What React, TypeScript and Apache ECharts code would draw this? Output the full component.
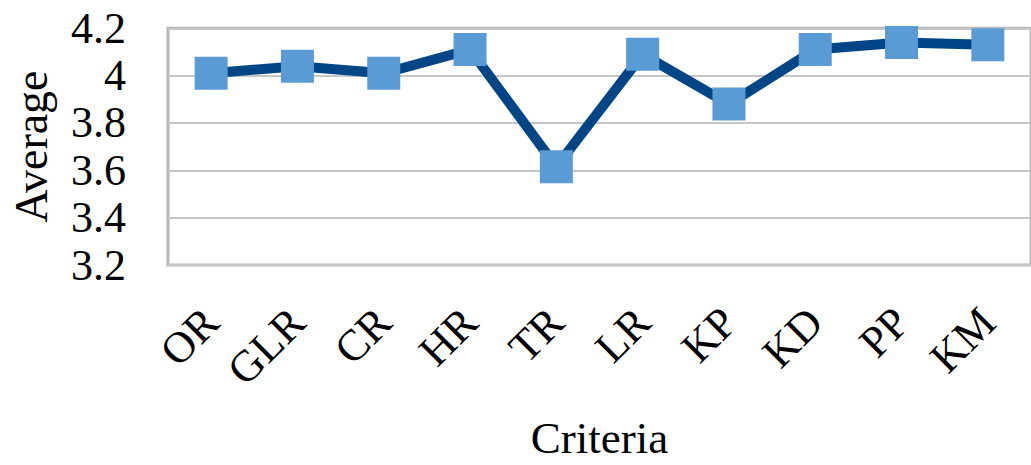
import React, { useEffect, useRef } from "react";
import * as echarts from "echarts";

const categories = ["OR", "GLR", "CR", "HR", "TR", "LR", "KP", "KD", "PP", "KM"];
const averages = [4.01, 4.04, 4.01, 4.11, 3.615, 4.09, 3.88, 4.11, 4.14, 4.13];
const yMin = 3.2;
const yMax = 4.2;
const yStep = 0.2;

const FONT = "'Liberation Serif', 'Times New Roman', serif";

export default function App() {
  const ref = useRef<HTMLDivElement>(null);
  useEffect(() => {
    if (!ref.current) return;
    const chart = echarts.init(ref.current, undefined, { renderer: "svg" });
    chart.setOption({
      animation: false,
      backgroundColor: "#ffffff",
      grid: {
        left: 163.4,
        right: -7.8,
        top: 28.3,
        bottom: 465 - 270.7,
        show: true,
        borderColor: "#B8B8B8",
        borderWidth: 3,
        backgroundColor: "transparent",
      },
      xAxis: {
        type: "category",
        data: categories,
        boundaryGap: true,
        axisLine: { show: false },
        axisTick: { show: false },
        splitLine: { show: false },
        axisLabel: {
          rotate: 45,
          margin: 50,
          fontFamily: FONT,
          fontSize: 44,
          color: "#000000",
          interval: 0,
        },
        name: "Criteria",
        nameLocation: "middle",
        nameGap: 150,
        nameTextStyle: { fontFamily: FONT, fontSize: 45, color: "#000000" },
      },
      yAxis: {
        type: "value",
        min: yMin,
        max: yMax,
        interval: yStep,
        axisLine: { show: false },
        axisTick: { show: false },
        splitLine: { show: true, lineStyle: { color: "#C6C6C6", width: 2 } },
        axisLabel: {
          margin: 42,
          fontFamily: FONT,
          fontSize: 44,
          color: "#000000",
          formatter: (v: number) => String(Math.round(v * 10) / 10),
        },
        name: "Average",
        nameLocation: "middle",
        nameGap: 114,
        nameTextStyle: { fontFamily: FONT, fontSize: 46, color: "#000000" },
      },
      series: [
        {
          type: "line",
          data: averages,
          symbol: "rect",
          symbolSize: 33,
          showAllSymbol: true,
          clip: false,
          itemStyle: { color: "#5B9BD5" },
          lineStyle: { color: "#004586", width: 10 },
        },
      ],
    });
    return () => chart.dispose();
  }, []);
  return (
    <div
      ref={ref}
      style={{ position: "fixed", left: 0, top: 0, width: 1031, height: 465 }}
    />
  );
}
